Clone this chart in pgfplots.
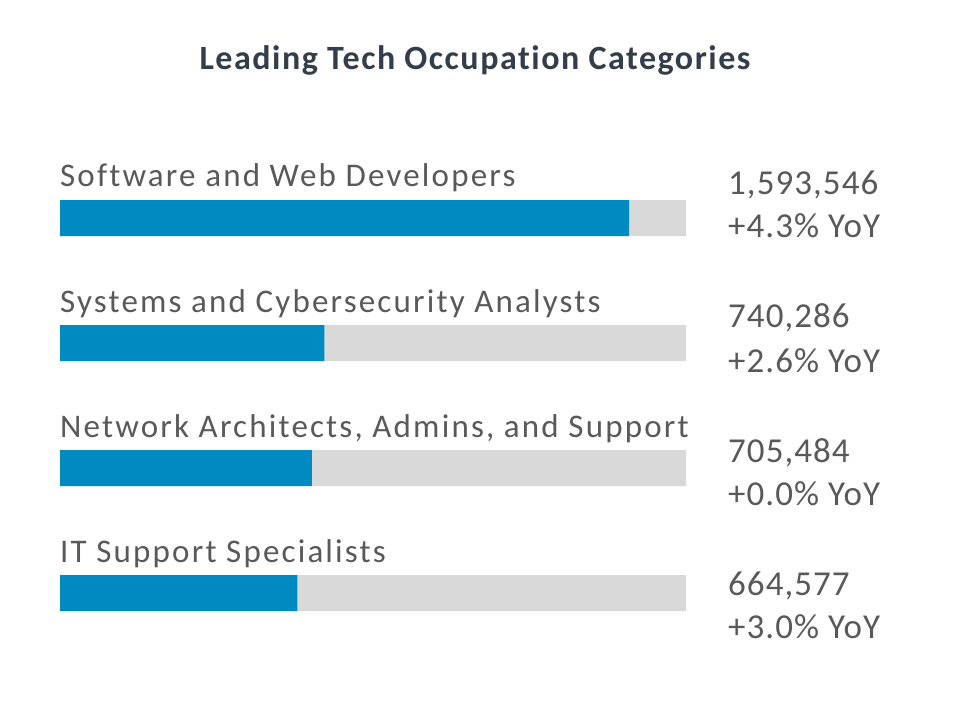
\documentclass[border=0pt]{standalone}
\usepackage{pgfplots}
\pgfplotsset{compat=1.18}
\usepackage{fontspec}
\setmainfont{Carlito}[Ligatures=NoCommon, Numbers={Monospaced,Lining}]
\newfontfamily\labfam{Carlito}[LetterSpace=6.6, Ligatures=NoCommon, Numbers={Monospaced,Lining}]
\newfontfamily\valfam{Carlito}[LetterSpace=3, Ligatures=NoCommon, Numbers={Monospaced,Lining}]
\newfontfamily\titfam{Carlito}[LetterSpace=4.5, Ligatures=NoCommon, Numbers={Monospaced,Lining}]
\definecolor{barblue}{RGB}{0,138,194}
\definecolor{bargrey}{RGB}{217,217,217}
\definecolor{txtgrey}{RGB}{89,89,89}
\definecolor{titlecol}{RGB}{52,62,74}
\newcommand{\labfont}{\labfam\fontsize{33bp}{40bp}\selectfont}
\newcommand{\valfont}{\valfam\fontsize{35bp}{42bp}\selectfont}
\begin{document}
\begin{tikzpicture}[x=1bp,y=1bp]
\path[use as bounding box] (0,0) rectangle (960,-720);
\node[anchor=base, inner sep=0, text=titlecol, font=\titfam\fontsize{34bp}{40bp}\selectfont\bfseries] at (475,-70) {Leading Tech Occupation Categories};
\begin{axis}[at={(60bp,-155.5bp)}, anchor=north west, scale only axis,
  width=626bp, height=500bp, xmin=0, xmax=1752900.6, ymin=-0.5, ymax=3.5,
  y dir=reverse, hide axis, xbar, bar width=36bp, bar shift=0pt, clip=false]
\addplot[fill=bargrey, draw=none] coordinates {(1752900.6,0) (1752900.6,1) (1752900.6,2) (1752900.6,3)};
\addplot[fill=barblue, draw=none] coordinates {(1593546,0) (740286,1) (705484,2) (664577,3)};
\node[anchor=base west, inner sep=0, text=txtgrey, font=\labfont, yshift=32bp] at (axis cs:0,0) {Software and Web Developers};
\node[anchor=base west, inner sep=0, text=txtgrey, font=\labfont, yshift=31bp] at (axis cs:0,1) {Systems and Cybersecurity Analysts};
\node[anchor=base west, inner sep=0, text=txtgrey, font=\labfont, yshift=31bp] at (axis cs:0,2) {Network Architects, Admins, and Support};
\node[anchor=base west, inner sep=0, text=txtgrey, font=\labfont, yshift=31bp] at (axis cs:0,3) {IT Support Specialists};
\node[anchor=base west, inner sep=0, text=txtgrey, font=\valfont, xshift=42bp, yshift=24bp] at (axis cs:1752900.6,0) {1,593,546};
\node[anchor=base west, inner sep=0, text=txtgrey, font=\valfont, xshift=42bp, yshift=-19bp] at (axis cs:1752900.6,0) {+4.3\% YoY};
\node[anchor=base west, inner sep=0, text=txtgrey, font=\valfont, xshift=42bp, yshift=16bp] at (axis cs:1752900.6,1) {740,286};
\node[anchor=base west, inner sep=0, text=txtgrey, font=\valfont, xshift=42bp, yshift=-29bp] at (axis cs:1752900.6,1) {+2.6\% YoY};
\node[anchor=base west, inner sep=0, text=txtgrey, font=\valfont, xshift=42bp, yshift=6bp] at (axis cs:1752900.6,2) {705,484};
\node[anchor=base west, inner sep=0, text=txtgrey, font=\valfont, xshift=42bp, yshift=-37bp] at (axis cs:1752900.6,2) {+0.0\% YoY};
\node[anchor=base west, inner sep=0, text=txtgrey, font=\valfont, xshift=42bp, yshift=-2bp] at (axis cs:1752900.6,3) {664,577};
\node[anchor=base west, inner sep=0, text=txtgrey, font=\valfont, xshift=42bp, yshift=-45bp] at (axis cs:1752900.6,3) {+3.0\% YoY};
\end{axis}
\end{tikzpicture}
\end{document}
